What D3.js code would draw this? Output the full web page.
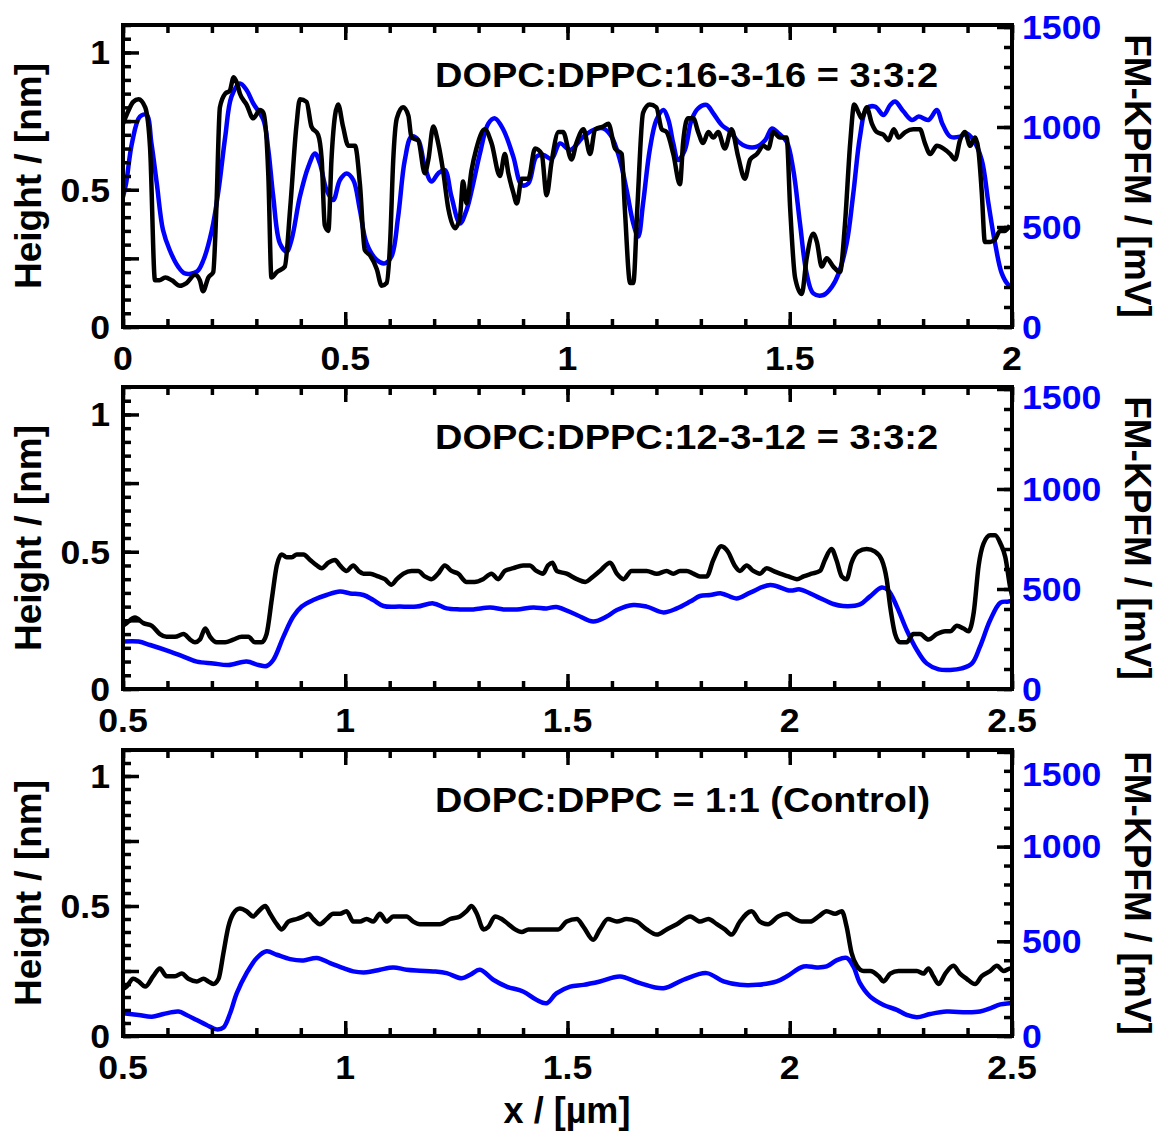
<!DOCTYPE html>
<html>
<head>
<meta charset="utf-8" />
<title>Height and FM-KPFM profiles</title>
<script src="https://cdn.jsdelivr.net/npm/d3@7"></script>
<style>
  body { margin: 0; background: #fff; }
  svg text { font-family: "Liberation Sans", Arial, sans-serif; font-weight: bold; }
</style>
</head>
<body>
<svg id="chart" width="1158" height="1135"></svg>
<script>
// ---- data ----
// panel 1: DOPC:DPPC:16-3-16 = 3:3:2
var p1HeightX = [0,0.01,0.023,0.035,0.05,0.061,0.072,0.082,0.095,0.11,0.128,0.143,0.162,0.173,0.18,0.192,0.203,0.21,0.218,0.23,0.24,0.249,0.256,0.263,0.278,0.293,0.308,0.316,0.327,0.334,0.346,0.364,0.376,0.39,0.398,0.413,0.424,0.439,0.447,0.454,0.462,0.469,0.477,0.484,0.495,0.507,0.522,0.533,0.544,0.556,0.571,0.582,0.593,0.601,0.608,0.616,0.63,0.642,0.649,0.664,0.679,0.687,0.698,0.709,0.72,0.732,0.747,0.758,0.765,0.773,0.784,0.795,0.814,0.829,0.848,0.859,0.867,0.878,0.886,0.897,0.912,0.927,0.942,0.953,0.964,0.98,0.99,1.009,1.02,1.036,1.051,1.062,1.08,1.092,1.107,1.122,1.129,1.141,1.148,1.157,1.17,1.185,1.2,1.212,1.223,1.238,1.253,1.26,1.271,1.283,1.294,1.305,1.317,1.328,1.339,1.354,1.369,1.384,1.399,1.411,1.426,1.441,1.452,1.463,1.478,1.493,1.501,1.512,1.527,1.538,1.553,1.561,1.572,1.583,1.598,1.613,1.624,1.636,1.645,1.655,1.662,1.673,1.685,1.696,1.711,1.722,1.734,1.745,1.76,1.778,1.793,1.804,1.816,1.831,1.846,1.861,1.872,1.883,1.894,1.906,1.917,1.924,1.932,1.939,1.951,1.962,1.973,1.984,1.995];
var p1Height = [0.74,0.78,0.82,0.83,0.8,0.65,0.17,0.17,0.18,0.17,0.15,0.16,0.19,0.17,0.13,0.18,0.2,0.43,0.8,0.85,0.86,0.91,0.89,0.85,0.81,0.76,0.79,0.78,0.55,0.18,0.2,0.22,0.43,0.73,0.83,0.82,0.73,0.7,0.61,0.37,0.35,0.61,0.77,0.81,0.73,0.66,0.66,0.52,0.28,0.26,0.21,0.15,0.16,0.31,0.61,0.76,0.8,0.77,0.69,0.68,0.56,0.61,0.73,0.67,0.57,0.43,0.36,0.4,0.53,0.45,0.57,0.65,0.72,0.67,0.55,0.63,0.56,0.49,0.45,0.54,0.54,0.65,0.63,0.48,0.6,0.71,0.71,0.61,0.67,0.72,0.63,0.72,0.73,0.74,0.65,0.63,0.43,0.16,0.16,0.43,0.78,0.81,0.8,0.72,0.71,0.63,0.52,0.67,0.76,0.76,0.71,0.67,0.71,0.69,0.71,0.65,0.72,0.62,0.54,0.61,0.63,0.66,0.65,0.71,0.69,0.69,0.43,0.18,0.12,0.25,0.34,0.31,0.22,0.25,0.22,0.2,0.37,0.67,0.81,0.78,0.76,0.8,0.74,0.71,0.7,0.68,0.72,0.69,0.71,0.72,0.72,0.67,0.63,0.66,0.65,0.63,0.61,0.68,0.71,0.66,0.69,0.65,0.49,0.31,0.31,0.32,0.35,0.35,0.37];
var p1KpfmX = [0,0.007,0.02,0.038,0.053,0.064,0.076,0.09,0.105,0.124,0.139,0.166,0.181,0.2,0.215,0.23,0.244,0.263,0.278,0.293,0.316,0.327,0.338,0.353,0.368,0.379,0.398,0.417,0.432,0.443,0.458,0.473,0.488,0.503,0.518,0.533,0.548,0.571,0.589,0.604,0.619,0.634,0.649,0.664,0.679,0.694,0.709,0.724,0.739,0.758,0.773,0.788,0.803,0.822,0.837,0.856,0.878,0.897,0.912,0.93,0.946,0.964,0.983,1.006,1.036,1.058,1.08,1.099,1.118,1.133,1.148,1.159,1.17,1.185,1.2,1.216,1.227,1.238,1.249,1.264,1.279,1.294,1.313,1.328,1.347,1.366,1.384,1.403,1.426,1.445,1.46,1.475,1.493,1.508,1.523,1.538,1.553,1.576,1.595,1.61,1.628,1.643,1.658,1.673,1.692,1.711,1.726,1.737,1.756,1.775,1.79,1.812,1.831,1.843,1.861,1.883,1.898,1.913,1.932,1.947,1.962,1.977,1.992,2];
var p1Kpfm = [650,718,918,1052,1060,918,718,485,385,302,268,277,335,485,685,952,1152,1218,1185,1118,1035,885,652,418,377,435,652,802,868,818,685,635,735,768,735,585,418,335,318,352,552,835,952,935,802,727,768,785,652,518,585,718,868,1018,1043,985,852,710,718,852,860,840,918,885,952,985,993,952,835,685,518,452,618,885,1035,1085,1035,918,835,885,1035,1093,1110,1068,1010,977,927,902,902,935,993,968,927,785,518,268,168,160,202,268,418,668,952,1093,1102,1060,1110,1127,1077,1035,1052,1035,1085,1018,952,952,968,935,835,618,418,268,210,200];

// panel 2: DOPC:DPPC:12-3-12 = 3:3:2
var p2HeightX = [0.5,0.508,0.527,0.546,0.565,0.583,0.598,0.617,0.636,0.651,0.662,0.673,0.685,0.696,0.711,0.73,0.748,0.767,0.782,0.797,0.812,0.823,0.835,0.846,0.857,0.868,0.88,0.891,0.906,0.921,0.936,0.947,0.962,0.977,0.988,1.003,1.018,1.03,1.041,1.056,1.074,1.089,1.104,1.116,1.131,1.149,1.164,1.179,1.194,1.209,1.224,1.239,1.254,1.273,1.291,1.31,1.329,1.344,1.359,1.378,1.4,1.415,1.43,1.445,1.456,1.466,1.476,1.498,1.521,1.54,1.558,1.573,1.596,1.611,1.626,1.644,1.663,1.678,1.701,1.723,1.738,1.753,1.768,1.783,1.798,1.813,1.828,1.846,1.861,1.876,1.888,1.903,1.918,1.933,1.948,1.963,1.978,1.997,2.016,2.031,2.049,2.068,2.079,2.094,2.105,2.117,2.128,2.139,2.154,2.173,2.192,2.207,2.218,2.226,2.237,2.248,2.263,2.278,2.293,2.312,2.331,2.35,2.361,2.376,2.391,2.402,2.414,2.425,2.436,2.451,2.462,2.474,2.485,2.496,2.5];
var p2Height = [0.23,0.24,0.26,0.24,0.23,0.2,0.19,0.19,0.2,0.18,0.17,0.18,0.22,0.19,0.17,0.17,0.18,0.19,0.19,0.17,0.17,0.2,0.33,0.45,0.49,0.48,0.48,0.49,0.49,0.47,0.45,0.44,0.46,0.47,0.45,0.43,0.45,0.43,0.42,0.42,0.41,0.4,0.38,0.4,0.42,0.43,0.43,0.41,0.4,0.42,0.45,0.43,0.42,0.39,0.39,0.4,0.42,0.4,0.43,0.44,0.45,0.45,0.43,0.42,0.45,0.46,0.43,0.42,0.4,0.39,0.41,0.43,0.46,0.42,0.4,0.43,0.43,0.43,0.42,0.43,0.42,0.43,0.43,0.42,0.41,0.41,0.47,0.52,0.5,0.45,0.43,0.45,0.43,0.42,0.44,0.43,0.42,0.41,0.4,0.41,0.42,0.43,0.47,0.51,0.47,0.41,0.4,0.46,0.5,0.51,0.5,0.47,0.4,0.3,0.2,0.17,0.17,0.2,0.2,0.18,0.2,0.21,0.21,0.23,0.22,0.21,0.28,0.45,0.53,0.56,0.56,0.53,0.48,0.37,0.34];
var p2KpfmX = [0.5,0.535,0.561,0.606,0.636,0.666,0.703,0.737,0.778,0.805,0.823,0.838,0.861,0.883,0.902,0.928,0.958,0.988,1.011,1.041,1.063,1.086,1.123,1.161,1.198,1.228,1.258,1.288,1.326,1.356,1.386,1.423,1.453,1.475,1.521,1.558,1.588,1.611,1.648,1.678,1.716,1.746,1.776,1.798,1.821,1.846,1.88,1.911,1.956,2.001,2.023,2.061,2.098,2.12,2.158,2.18,2.207,2.222,2.241,2.263,2.286,2.308,2.335,2.361,2.387,2.41,2.428,2.451,2.474,2.492,2.5];
var p2Kpfm = [237,237,220,187,162,137,128,120,137,120,115,145,262,362,412,445,470,487,478,470,445,415,412,412,428,403,398,398,407,398,398,408,403,410,370,337,362,395,420,412,383,403,437,465,470,478,453,482,520,492,498,462,425,415,423,462,507,492,412,295,195,128,98,95,103,128,212,345,432,437,440];

// panel 3: DOPC:DPPC = 1:1 (Control)
var p3HeightX = [0.5,0.508,0.523,0.535,0.55,0.568,0.583,0.598,0.617,0.632,0.647,0.666,0.681,0.692,0.703,0.715,0.726,0.737,0.748,0.763,0.778,0.793,0.805,0.82,0.831,0.846,0.857,0.872,0.891,0.906,0.917,0.928,0.943,0.958,0.973,0.988,1.003,1.018,1.033,1.048,1.063,1.078,1.093,1.108,1.123,1.138,1.153,1.168,1.191,1.213,1.236,1.258,1.273,1.284,1.296,1.311,1.322,1.337,1.352,1.367,1.382,1.397,1.412,1.423,1.438,1.453,1.468,1.479,1.498,1.521,1.536,1.558,1.573,1.591,1.611,1.633,1.656,1.678,1.701,1.723,1.746,1.776,1.798,1.817,1.836,1.854,1.869,1.888,1.914,1.933,1.951,1.974,1.993,2.012,2.027,2.046,2.065,2.083,2.102,2.117,2.128,2.139,2.151,2.166,2.181,2.2,2.211,2.226,2.245,2.263,2.286,2.301,2.312,2.323,2.335,2.35,2.368,2.383,2.398,2.417,2.432,2.451,2.466,2.481,2.496,2.5];
var p3Height = [0.18,0.19,0.22,0.21,0.19,0.23,0.26,0.23,0.23,0.24,0.22,0.21,0.22,0.21,0.2,0.22,0.32,0.42,0.47,0.49,0.48,0.46,0.48,0.5,0.47,0.43,0.41,0.44,0.45,0.46,0.47,0.45,0.43,0.45,0.47,0.47,0.48,0.44,0.44,0.45,0.44,0.47,0.44,0.46,0.46,0.46,0.44,0.43,0.43,0.43,0.45,0.46,0.48,0.5,0.47,0.41,0.42,0.46,0.45,0.43,0.41,0.4,0.41,0.41,0.41,0.41,0.41,0.41,0.44,0.45,0.42,0.37,0.41,0.45,0.44,0.45,0.44,0.41,0.39,0.41,0.43,0.46,0.44,0.45,0.43,0.41,0.39,0.44,0.48,0.44,0.43,0.46,0.47,0.45,0.44,0.44,0.46,0.48,0.47,0.48,0.42,0.32,0.27,0.25,0.25,0.23,0.21,0.24,0.25,0.25,0.25,0.24,0.26,0.23,0.2,0.24,0.27,0.24,0.22,0.2,0.23,0.25,0.27,0.25,0.26,0.26];
var p3KpfmX = [0.5,0.535,0.565,0.591,0.625,0.643,0.666,0.688,0.711,0.726,0.741,0.756,0.778,0.801,0.823,0.846,0.876,0.906,0.936,0.966,0.996,1.018,1.048,1.078,1.108,1.138,1.168,1.198,1.228,1.262,1.281,1.303,1.333,1.363,1.4,1.43,1.453,1.475,1.506,1.536,1.573,1.618,1.663,1.716,1.761,1.813,1.851,1.888,1.926,1.971,1.993,2.031,2.061,2.083,2.105,2.128,2.143,2.158,2.181,2.211,2.241,2.263,2.286,2.316,2.353,2.398,2.428,2.451,2.474,2.495,2.5];
var p3Kpfm = [120,111,102,116,129,111,84,58,35,45,120,226,332,412,447,429,406,399,412,385,358,341,336,350,362,350,345,341,332,305,323,350,297,261,235,191,173,225,261,270,288,314,279,252,297,332,288,270,270,288,314,367,362,367,399,412,367,279,208,164,138,111,99,116,129,125,129,146,167,173,175];

// axes
var heightTicks = [0, 0.5, 1];
var kpfmTicks = [0, 500, 1000, 1500];
var xTicksA = [0, 0.5, 1, 1.5, 2];
var xTicksB = [0.5, 1, 1.5, 2, 2.5];
var xTickLabelsA = ["0", "0.5", "1", "1.5", "2"];
var xTickLabelsB = ["0.5", "1", "1.5", "2", "2.5"];
var panelTitles = ["DOPC:DPPC:16-3-16 = 3:3:2", "DOPC:DPPC:12-3-12 = 3:3:2", "DOPC:DPPC = 1:1 (Control)"];

// ---- layout ----
var svg = d3.select("#chart");
var L = 123, R = 1012;
var blue = "#0000ff";

var panels = [
  { top: 25,  bottom: 327,  xdom: [0, 2],     xt: xTicksA, xl: xTickLabelsA, hx: p1HeightX, h: p1Height, kx: p1KpfmX, k: p1Kpfm, title: panelTitles[0], titleLen: 503, topShift: 0 },
  { top: 387, bottom: 689,  xdom: [0.5, 2.5], xt: xTicksB, xl: xTickLabelsB, hx: p2HeightX, h: p2Height, kx: p2KpfmX, k: p2Kpfm, title: panelTitles[1], titleLen: 503, topShift: 8 },
  { top: 750, bottom: 1036, xdom: [0.5, 2.5], xt: xTicksB, xl: xTickLabelsB, hx: p3HeightX, h: p3Height, kx: p3KpfmX, k: p3Kpfm, title: panelTitles[2], titleLen: 495, topShift: 22 }
];

// widen bold labels a little, the original font runs wider than Arial
function widen(sel, f) {
  sel.each(function () {
    var n = this.getComputedTextLength();
    d3.select(this).attr("textLength", n * f).attr("lengthAdjust", "spacingAndGlyphs");
  });
}

panels.forEach(function (p, i) {
  var x = d3.scaleLinear().domain(p.xdom).range([L, R]);
  var yL = d3.scaleLinear().domain([0, 1.1]).range([p.bottom, p.top]);
  var yR = d3.scaleLinear().domain([0, 1510]).range([p.bottom, p.top]);
  var g = svg.append("g");

  g.append("clipPath").attr("id", "clip" + i)
    .append("rect").attr("x", L).attr("y", p.top).attr("width", R - L).attr("height", p.bottom - p.top);

  // blue KPFM line (smooth) then black height line
  var kLine = d3.line().x(function (d) { return x(d[0]); }).y(function (d) { return yR(d[1]); })
    .curve(d3.curveCatmullRom.alpha(0.5));
  var hLine = d3.line().x(function (d) { return x(d[0]); }).y(function (d) { return yL(d[1]); })
    .curve(d3.curveMonotoneX);

  g.append("path").attr("clip-path", "url(#clip" + i + ")")
    .attr("d", kLine(d3.zip(p.kx, p.k)))
    .attr("fill", "none").attr("stroke", blue).attr("stroke-width", 4.5).attr("stroke-linejoin", "round");
  g.append("path").attr("clip-path", "url(#clip" + i + ")")
    .attr("d", hLine(d3.zip(p.hx, p.h)))
    .attr("fill", "none").attr("stroke", "#000").attr("stroke-width", 4.5).attr("stroke-linejoin", "round");

  // ticks, all pointing inward
  var minorX = d3.range(Math.round(p.xdom[0] * 10), Math.round(p.xdom[1] * 10) + 1).map(function (v) { return v / 10; });
  var minorH = d3.range(0, 23).map(function (v) { return v * 0.05; });
  var majorH = [0, 0.25, 0.5, 0.75, 1];
  var minorK = d3.range(0, 16).map(function (v) { return v * 100; });

  function tickGroup(axis, tx, ty) {
    var t = g.append("g").attr("transform", "translate(" + tx + "," + ty + ")").call(axis);
    t.select(".domain").remove();
    t.selectAll("text").remove();
    t.selectAll("line").attr("stroke", "#000").attr("stroke-width", 3.5);
  }
  tickGroup(d3.axisBottom(x).tickValues(minorX).tickSize(-8), 0, p.bottom);
  tickGroup(d3.axisBottom(x).tickValues(p.xt).tickSize(-15), 0, p.bottom);
  tickGroup(d3.axisTop(x).tickValues(minorX).tickSize(-8), 0, p.top);
  tickGroup(d3.axisTop(x).tickValues(p.xt).tickSize(-15), 0, p.top);
  tickGroup(d3.axisLeft(yL).tickValues(minorH).tickSize(-8), L, 0);
  tickGroup(d3.axisLeft(yL).tickValues(majorH).tickSize(-16), L, 0);
  tickGroup(d3.axisRight(yR).tickValues(minorK).tickSize(-8), R, 0);
  tickGroup(d3.axisRight(yR).tickValues(kpfmTicks).tickSize(-15), R, 0);

  // frame
  g.append("rect").attr("x", L).attr("y", p.top).attr("width", R - L).attr("height", p.bottom - p.top)
    .attr("fill", "none").attr("stroke", "#000").attr("stroke-width", 4);

  // tick labels
  var xl = g.selectAll(".xl").data(p.xt).enter().append("text")
    .attr("x", function (d) { return x(d); }).attr("y", p.bottom + 43)
    .attr("text-anchor", "middle").attr("font-size", 33)
    .text(function (d, j) { return p.xl[j]; });
  var hl = g.selectAll(".hl").data(heightTicks).enter().append("text")
    .attr("x", 110).attr("y", function (d) { return yL(d); }).attr("dy", "0.36em")
    .attr("text-anchor", "end").attr("font-size", 33)
    .text(function (d) { return d; });
  var kl = g.selectAll(".kl").data(kpfmTicks).enter().append("text")
    .attr("x", 1022).attr("y", function (d) { return yR(d) + (d === 1500 ? p.topShift : 0); }).attr("dy", "0.36em")
    .attr("font-size", 33).attr("fill", blue)
    .text(function (d) { return d; });
  widen(xl, 1.08); widen(hl, 1.08); widen(kl, 1.08);

  // axis titles
  var mid = (p.top + p.bottom) / 2;
  g.append("text").attr("transform", "translate(41," + mid + ") rotate(-90)")
    .attr("text-anchor", "middle").attr("font-size", 37).text("Height / [nm]");
  g.append("text").attr("transform", "translate(1125," + mid + ") rotate(90)")
    .attr("text-anchor", "middle").attr("font-size", 37).text("FM-KPFM / [mV]");

  // panel label
  g.append("text").attr("x", 435).attr("y", p.top + 62)
    .attr("font-size", 35).attr("textLength", p.titleLen).attr("lengthAdjust", "spacingAndGlyphs")
    .text(p.title);
});

svg.append("text").attr("x", 567).attr("y", 1123).attr("text-anchor", "middle")
  .attr("font-size", 36).text("x / [µm]");
</script>
</body>
</html>
